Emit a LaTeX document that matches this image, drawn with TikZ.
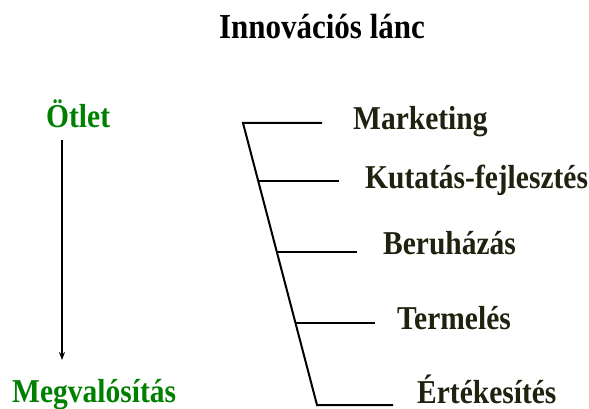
\documentclass[tikz,border=0pt]{standalone}
\usepackage{fontspec}
\setmainfont{Liberation Serif}
\usetikzlibrary{arrows.meta}
\definecolor{lbl}{RGB}{33,33,15}
\definecolor{grn}{RGB}{0,128,0}
\newcommand{\tallt}[1]{\scalebox{1}[1.13]{#1}}
\begin{document}
\begin{tikzpicture}[x=1pt,y=-1pt,
  title/.style={font=\bfseries\fontsize{31}{36}\selectfont, inner sep=0pt, anchor=base},
  lab/.style={font=\bfseries\fontsize{29.5}{34}\selectfont, text=lbl, inner sep=0pt, anchor=base west},
  glab/.style={font=\bfseries\fontsize{29.5}{34}\selectfont, text=grn, inner sep=0pt, anchor=base west},
  ln/.style={line width=2pt, black}]
\useasboundingbox (0,0) rectangle (589,409);
\node[title] (t) at (322,39) {\tallt{Innovációs lánc}};
\node[glab] (o) at (46,128) {\tallt{Ötlet}};
\node[glab] (m) at (12,402) {\tallt{Megvalósítás}};
\coordinate (a1) at (62,140);
\coordinate (a2) at (62,360);
\draw[ln, -{Stealth[length=8pt,width=6pt]}] (a1) -- (a2);
\node[lab] (l1) at (353,130) {\tallt{Marketing}};
\node[lab] (l2) at (365,189) {\tallt{Kutatás-fejlesztés}};
\node[lab] (l3) at (383,254) {\tallt{Beruházás}};
\node[lab] (l4) at (397,329) {\tallt{Termelés}};
\node[lab] (l5) at (417,403) {\tallt{Értékesítés}};
\coordinate (b0) at (243,123);
\coordinate (b0e) at (322,123);
\coordinate (bn) at (317,405);
\coordinate (bne) at (393,405);
\draw[ln] (b0e) -- (b0) -- (bn) -- (bne);
\path (b0) -- (bn) coordinate[pos=0.2057] (c1) coordinate[pos=0.4574] (c2) coordinate[pos=0.7092] (c3);
\coordinate (e1) at (339,181);
\coordinate (e2) at (357,252);
\coordinate (e3) at (375,323);
\draw[ln] (c1) -- (c1 -| e1);
\draw[ln] (c2) -- (c2 -| e2);
\draw[ln] (c3) -- (c3 -| e3);
\end{tikzpicture}
\end{document}
